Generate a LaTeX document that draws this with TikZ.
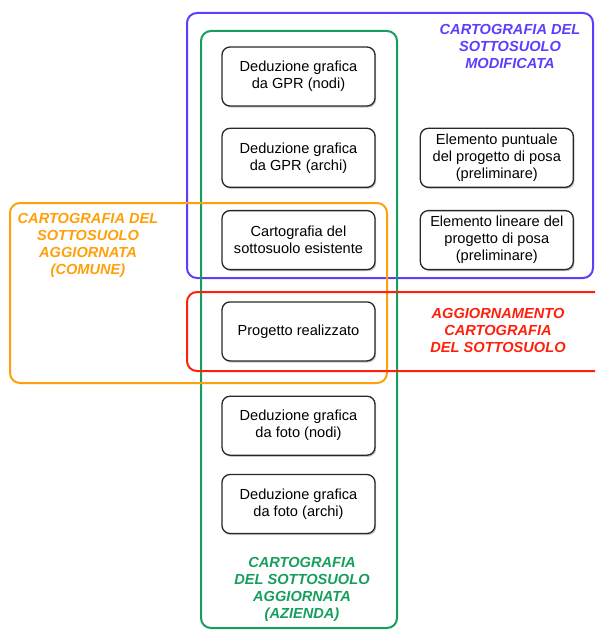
\documentclass[tikz,border=0pt]{standalone}
\usepackage{fontspec}
\setmainfont{Liberation Sans}
\usetikzlibrary{positioning,shadows}
\definecolor{cartblue}{RGB}{92,62,252}
\definecolor{cartorange}{RGB}{255,160,10}
\definecolor{cartred}{RGB}{255,32,12}
\definecolor{cartgreen}{RGB}{22,158,92}
\definecolor{cartdark}{RGB}{40,40,40}

\begin{document}
\begin{tikzpicture}[
      x=1pt, y=1pt,
      node distance=22pt,
      item/.style={draw=cartdark, fill=white, rounded corners=8pt, line width=1.3pt,
        minimum width=153pt, minimum height=59pt, inner sep=2pt, align=center,
        font=\fontsize{14.6}{17}\selectfont,
        drop shadow={shadow xshift=1.2pt, shadow yshift=-1.6pt, opacity=0.45}},
      area/.style={rounded corners=10pt, line width=2pt},
      tag/.style={align=center, font=\fontsize{14.6}{17}\selectfont\bfseries\itshape}
    ]
      \useasboundingbox (0,-634) rectangle (595,0);
      \clip (0,-634) rectangle (595,0);

      % groups
      \draw[area, draw=cartblue] (187,-13) rectangle (593,-278);
      \draw[area, draw=cartgreen] (201,-31) rectangle (397,-628);
      \draw[area, draw=cartorange] (10,-203) rectangle (387,-383);
      \draw[area, draw=cartred] (187,-292) rectangle (608,-371);

      % elements
      \node[item] (gprnodi) at (298.5,-76.5) {Deduzione grafica\\da GPR (nodi)};
      \node[item, below=21pt of gprnodi] (gprarchi) {Deduzione grafica\\da GPR (archi)};
      \node[item, below=22pt of gprarchi] (esistente) {Cartografia del\\sottosuolo esistente};
      \node[item, below=31pt of esistente] (realizzato) {Progetto realizzato};
      \node[item, below=34pt of realizzato] (fotonodi) {Deduzione grafica\\da foto (nodi)};
      \node[item, below=18pt of fotonodi] (fotoarchi) {Deduzione grafica\\da foto (archi)};

      \node[item, right=44pt of gprarchi] (puntuale) {Elemento puntuale\\del progetto di posa\\(preliminare)};
      \node[item, right=44pt of esistente] (lineare) {Elemento lineare del\\progetto di posa\\(preliminare)};

      % group titles
      \node[tag, text=cartblue] (modificata) at (510,-46) {CARTOGRAFIA DEL\\SOTTOSUOLO\\MODIFICATA};
      \node[tag, text=cartorange] (comune) at (88,-245) {CARTOGRAFIA DEL\\SOTTOSUOLO\\AGGIORNATA\\(COMUNE)};
      \node[tag, text=cartred] (aggiornamento) at (498,-330) {AGGIORNAMENTO\\CARTOGRAFIA\\DEL SOTTOSUOLO};
      \node[tag, text=cartgreen] (azienda) at (302,-589) {CARTOGRAFIA\\DEL SOTTOSUOLO\\AGGIORNATA\\(AZIENDA)};
    \end{tikzpicture}
\end{document}
